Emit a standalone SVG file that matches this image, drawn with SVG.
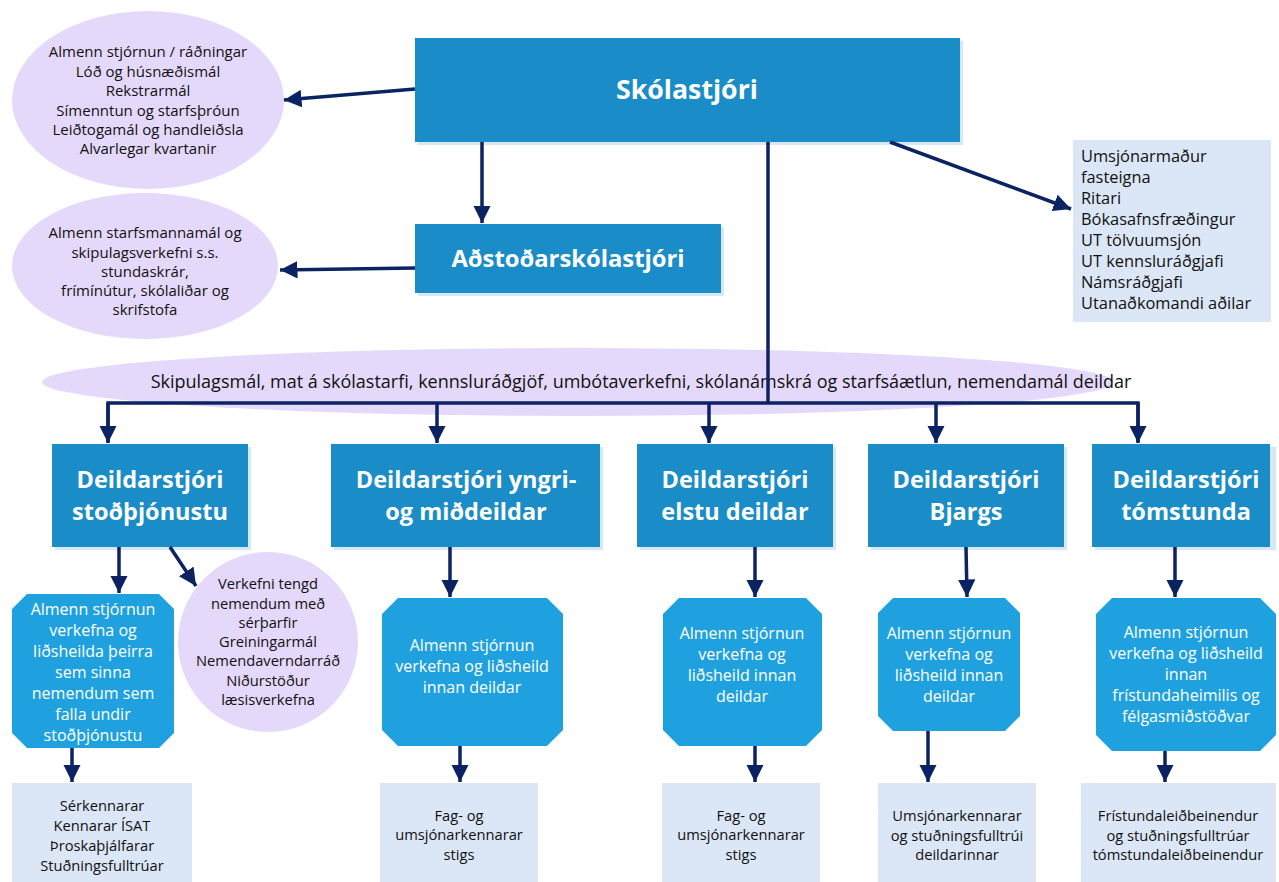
<svg xmlns="http://www.w3.org/2000/svg" width="1279" height="882" viewBox="0 0 1279 882">
<defs>
<marker id="ah" viewBox="0 0 10 10" refX="10" refY="5" markerWidth="5" markerHeight="5" markerUnits="strokeWidth" orient="auto">
<path d="M0,0 L10,5 L0,10 z" fill="#0b2363"/>
</marker>
<style>
.main{fill:#1a8cc7;}
.shadow{fill:#d6e8f4;}
.oct{fill:#1fa1e0;}
.lilac{fill:#e5d9fb;}
.pale{fill:#dbe7f6;}
.conn{stroke:#0b2363;stroke-width:3.5;fill:none;}
.arr{marker-end:url(#ah);}
text{font-family:"Open Sans","Noto Sans","DejaVu Sans",sans-serif;}
.t1{font-size:26.7px;font-weight:bold;fill:#fff;text-anchor:middle;}
.t2{font-size:23.5px;font-weight:bold;fill:#fff;text-anchor:middle;}
.t2b{font-size:23.8px;font-weight:bold;fill:#fff;text-anchor:middle;}
.t3{font-size:16px;fill:#fff;text-anchor:middle;}
.t4{font-size:15px;fill:#111;text-anchor:middle;}
.t4c{font-size:14.7px;fill:#111;text-anchor:middle;}
.t5{font-size:16.4px;fill:#111;}
.t6{font-size:18px;fill:#111;text-anchor:middle;}
</style>
</defs>

<g id="ellipse-skolastjori">
<ellipse class="lilac" cx="148" cy="100" rx="136" ry="89"/>
<text class="t4"><tspan x="148" y="57">Almenn stjórnun / ráðningar</tspan><tspan x="148" y="77">Lóð og húsnæðismál</tspan><tspan x="148" y="96">Rekstrarmál</tspan><tspan x="148" y="116">Símenntun og starfsþróun</tspan><tspan x="148" y="135">Leiðtogamál og handleiðsla</tspan><tspan x="148" y="154">Alvarlegar kvartanir</tspan></text>
</g>

<g id="ellipse-adstodar">
<ellipse class="lilac" cx="145" cy="266" rx="133" ry="73"/>
<text class="t4"><tspan x="145" y="238">Almenn starfsmannamál og</tspan><tspan x="145" y="258">skipulagsverkefni s.s.</tspan><tspan x="145" y="277">stundaskrár,</tspan><tspan x="145" y="296">frímínútur, skólaliðar og</tspan><tspan x="145" y="315">skrifstofa</tspan></text>
</g>

<g id="big-ellipse">
<ellipse class="lilac" cx="578" cy="382" rx="536" ry="34"/>
<text class="t6" x="641" y="388">Skipulagsmál, mat á skólastarfi, kennsluráðgjöf, umbótaverkefni, skólanámskrá og starfsáætlun, nemendamál deildar</text>
</g>

<g id="skolastjori">
<rect class="shadow" x="418" y="41" width="545" height="104"/>
<rect class="main" x="415" y="38" width="545" height="104"/>
<text class="t1" x="687" y="99">Skólastjóri</text>
</g>

<g id="adstodarskolastjori">
<rect class="shadow" x="418" y="227" width="306" height="69"/>
<rect class="main" x="415" y="224" width="306" height="69"/>
<text class="t2b" x="568" y="267">Aðstoðarskólastjóri</text>
</g>

<g id="starfsfolk">
<rect class="pale" x="1073" y="140" width="198" height="182"/>
<text class="t5"><tspan x="1081" y="162">Umsjónarmaður</tspan><tspan x="1081" y="183">fasteigna</tspan><tspan x="1081" y="204">Ritari</tspan><tspan x="1081" y="225">Bókasafnsfræðingur</tspan><tspan x="1081" y="246">UT tölvuumsjón</tspan><tspan x="1081" y="267">UT kennsluráðgjafi</tspan><tspan x="1081" y="288">Námsráðgjafi</tspan><tspan x="1081" y="309">Utanaðkomandi aðilar</tspan></text>
</g>

<g id="ds-stodthjonustu">
<rect class="shadow" x="55" y="447" width="196" height="103"/>
<rect class="main" x="52" y="444" width="196" height="103"/>
<text class="t2"><tspan x="150" y="488">Deildarstjóri</tspan><tspan x="150" y="520">stoðþjónustu</tspan></text>
</g>
<g id="ds-yngri">
<rect class="shadow" x="334" y="447" width="269" height="103"/>
<rect class="main" x="331" y="444" width="269" height="103"/>
<text class="t2"><tspan x="466" y="488">Deildarstjóri yngri-</tspan><tspan x="466" y="520">og miðdeildar</tspan></text>
</g>
<g id="ds-elstu">
<rect class="shadow" x="640" y="447" width="196" height="103"/>
<rect class="main" x="637" y="444" width="196" height="103"/>
<text class="t2"><tspan x="735" y="488">Deildarstjóri</tspan><tspan x="735" y="520">elstu deildar</tspan></text>
</g>
<g id="ds-bjargs">
<rect class="shadow" x="871" y="447" width="196" height="103"/>
<rect class="main" x="868" y="444" width="196" height="103"/>
<text class="t2"><tspan x="966" y="488">Deildarstjóri</tspan><tspan x="966" y="520">Bjargs</tspan></text>
</g>
<g id="ds-tomstunda">
<rect class="shadow" x="1095" y="447" width="181" height="103"/>
<rect class="main" x="1092" y="444" width="178" height="103"/>
<text class="t2"><tspan x="1186" y="488">Deildarstjóri</tspan><tspan x="1186" y="520">tómstunda</tspan></text>
</g>

<g id="oct-1">
<polygon class="oct" points="27,594 159,594 174,609 174,733 159,748 27,748 12,733 12,609"/>
<text class="t3"><tspan x="93" y="615">Almenn stjórnun</tspan><tspan x="93" y="636">verkefna og</tspan><tspan x="93" y="657">liðsheilda þeirra</tspan><tspan x="93" y="678">sem sinna</tspan><tspan x="93" y="699">nemendum sem</tspan><tspan x="93" y="720">falla undir</tspan><tspan x="93" y="741">stoðþjónustu</tspan></text>
</g>
<g id="circle-1">
<circle class="lilac" cx="268" cy="642" r="90"/>
<text class="t4c"><tspan x="268" y="589">Verkefni tengd</tspan><tspan x="268" y="609">nemendum með</tspan><tspan x="268" y="628">sérþarfir</tspan><tspan x="268" y="647">Greiningarmál</tspan><tspan x="268" y="666">Nemendaverndarráð</tspan><tspan x="268" y="686">Niðurstöður</tspan><tspan x="268" y="705">læsisverkefna</tspan></text>
</g>
<g id="oct-2">
<polygon class="oct" points="398,598 547,598 563,614 563,730 547,746 398,746 382,730 382,614"/>
<text class="t3"><tspan x="472" y="651">Almenn stjórnun</tspan><tspan x="472" y="672">verkefna og liðsheild</tspan><tspan x="472" y="693">innan deildar</tspan></text>
</g>
<g id="oct-3">
<polygon class="oct" points="679,598 806,598 822,614 822,730 806,746 679,746 663,730 663,614"/>
<text class="t3"><tspan x="742" y="639">Almenn stjórnun</tspan><tspan x="742" y="660">verkefna og</tspan><tspan x="742" y="681">liðsheild innan</tspan><tspan x="742" y="702">deildar</tspan></text>
</g>
<g id="oct-4">
<polygon class="oct" points="893,598 1005,598 1020,613 1020,716 1005,731 893,731 878,716 878,613"/>
<text class="t3"><tspan x="949" y="639">Almenn stjórnun</tspan><tspan x="949" y="660">verkefna og</tspan><tspan x="949" y="681">liðsheild innan</tspan><tspan x="949" y="702">deildar</tspan></text>
</g>
<g id="oct-5">
<polygon class="oct" points="1112,598 1260,598 1276,614 1276,735 1260,751 1112,751 1096,735 1096,614"/>
<text class="t3"><tspan x="1186" y="638">Almenn stjórnun</tspan><tspan x="1186" y="659">verkefna og liðsheild</tspan><tspan x="1186" y="680">innan</tspan><tspan x="1186" y="701">frístundaheimilis og</tspan><tspan x="1186" y="722">félgasmiðstöðvar</tspan></text>
</g>

<g id="box-1">
<rect class="pale" x="12" y="783" width="180" height="99"/>
<text class="t4c"><tspan x="102" y="811">Sérkennarar</tspan><tspan x="102" y="831">Kennarar ÍSAT</tspan><tspan x="102" y="851">Þroskaþjálfarar</tspan><tspan x="102" y="871">Stuðningsfulltrúar</tspan></text>
</g>
<g id="box-2">
<rect class="pale" x="380" y="783" width="158" height="99"/>
<text class="t4c"><tspan x="459" y="821">Fag- og</tspan><tspan x="459" y="840">umsjónarkennarar</tspan><tspan x="459" y="860">stigs</tspan></text>
</g>
<g id="box-3">
<rect class="pale" x="662" y="783" width="158" height="99"/>
<text class="t4c"><tspan x="741" y="821">Fag- og</tspan><tspan x="741" y="840">umsjónarkennarar</tspan><tspan x="741" y="860">stigs</tspan></text>
</g>
<g id="box-4">
<rect class="pale" x="878" y="783" width="158" height="99"/>
<text class="t4c"><tspan x="957" y="821">Umsjónarkennarar</tspan><tspan x="957" y="841">og stuðningsfulltrúi</tspan><tspan x="957" y="860">deildarinnar</tspan></text>
</g>
<g id="box-5">
<rect class="pale" x="1081" y="783" width="195" height="99"/>
<text class="t4c"><tspan x="1178" y="821">Frístundaleiðbeinendur</tspan><tspan x="1178" y="841">og stuðningsfulltrúar</tspan><tspan x="1178" y="860">tómstundaleiðbeinendur</tspan></text>
</g>

<g id="connectors">
<line class="conn arr" x1="415" y1="89" x2="284" y2="100"/>
<line class="conn arr" x1="482" y1="142" x2="482" y2="223"/>
<line class="conn arr" x1="415" y1="268" x2="280" y2="270"/>
<line class="conn arr" x1="890" y1="142" x2="1071" y2="209"/>
<polyline class="conn" points="768,142 768,403"/>
<polyline class="conn" points="108,442 108,403 1138,403 1138,442"/>
<line class="conn arr" x1="108" y1="403" x2="108" y2="443"/>
<line class="conn arr" x1="437" y1="403" x2="437" y2="443"/>
<line class="conn arr" x1="709" y1="403" x2="709" y2="443"/>
<line class="conn arr" x1="936" y1="403" x2="936" y2="443"/>
<line class="conn arr" x1="1138" y1="403" x2="1138" y2="443"/>
<line class="conn arr" x1="119" y1="547" x2="119" y2="593"/>
<line class="conn arr" x1="170" y1="547" x2="196" y2="586"/>
<line class="conn arr" x1="450" y1="547" x2="450" y2="597"/>
<line class="conn arr" x1="755" y1="547" x2="755" y2="597"/>
<line class="conn arr" x1="966" y1="547" x2="967" y2="597"/>
<line class="conn arr" x1="1175" y1="547" x2="1175" y2="597"/>
<line class="conn arr" x1="72" y1="748" x2="72" y2="782"/>
<line class="conn arr" x1="460" y1="746" x2="460" y2="782"/>
<line class="conn arr" x1="755" y1="746" x2="755" y2="782"/>
<line class="conn arr" x1="928" y1="731" x2="928" y2="782"/>
<line class="conn arr" x1="1165" y1="751" x2="1165" y2="782"/>
</g>
</svg>
